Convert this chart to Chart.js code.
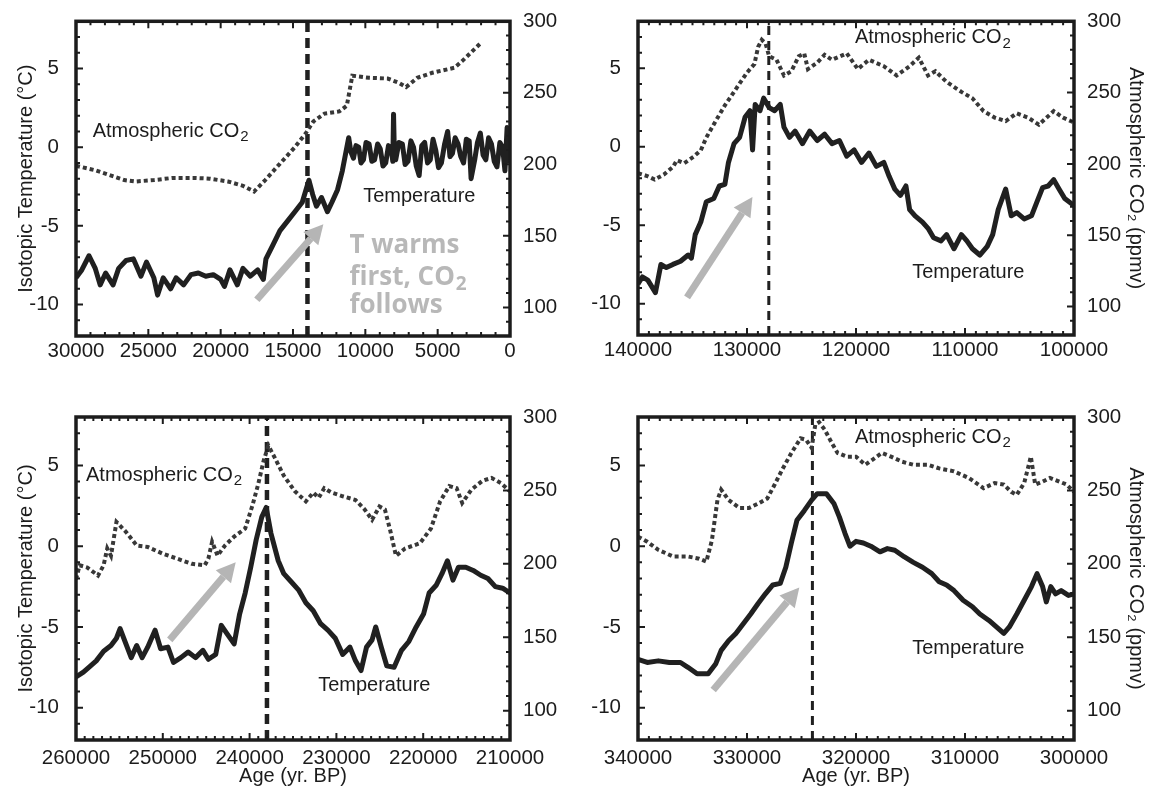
<!DOCTYPE html>
<html>
<head>
<meta charset="utf-8">
<script src="https://cdn.jsdelivr.net/npm/chart.js@4.4.1/dist/chart.umd.min.js"></script>
<style>
  html, body { margin: 0; padding: 0; background: #fff; }
  #wrap { position: relative; width: 1151px; height: 788px; }
  canvas { position: absolute; }
</style>
</head>
<body>
<div id="wrap">
  <canvas id="c1" width="575" height="394" style="left:0;top:0"></canvas>
  <canvas id="c2" width="576" height="394" style="left:575px;top:0"></canvas>
  <canvas id="c3" width="575" height="394" style="left:0;top:394px"></canvas>
  <canvas id="c4" width="576" height="394" style="left:575px;top:394px"></canvas>
</div>
<script>
// --- shared tick labels ---
const tempTicks = [-10, -5, 0, 5];
const co2Ticks = [100, 150, 200, 250, 300];
const ticks1 = [30000, 25000, 20000, 15000, 10000, 5000, 0];
const ticks2 = [140000, 130000, 120000, 110000, 100000];
const ticks3 = [260000, 250000, 240000, 230000, 220000, 210000];
const ticks4 = [340000, 330000, 320000, 310000, 300000];

// --- 30 kyr BP to present ---
const tempAge1 = [30000,29600,29100,28670,28330,27950,27440,27050,26540,26030,25510,25130,24620,24360,23970,23460,23080,22560,22050,21540,21030,20510,20000,19740,19360,18850,18460,17950,17440,17050,16870,16410,15900,15380,14870,14360,14100,13900,13640,13380,13030,12620,12310,11920,11590,11150,11000,10820,10650,10460,10300,10130,9950,9740,9550,9360,9150,8970,8780,8590,8400,8200,8100,8050,7990,7900,7680,7440,7250,7050,6850,6670,6480,6280,6100,5900,5700,5510,5320,5130,4940,4740,4520,4310,4150,3980,3790,3590,3400,3210,3020,2820,2690,2440,2250,2050,1860,1670,1480,1280,1090,900,700,510,350,200,100,0];
const temp1 = [-8.3,-7.8,-6.9,-7.7,-8.75,-8.0,-8.75,-7.7,-7.2,-7.1,-8.2,-7.3,-8.3,-9.4,-8.3,-9.0,-8.3,-8.75,-8.1,-8.0,-8.2,-8.1,-8.4,-8.85,-7.8,-8.75,-7.7,-8.2,-7.8,-8.4,-7.1,-6.25,-5.3,-4.7,-4.1,-3.5,-2.7,-2.1,-3.0,-3.75,-3.2,-4.1,-3.5,-2.7,-1.5,0.6,-0.3,-0.7,0.1,0,-1.0,-0.8,0.3,0.2,-0.9,-0.8,0.2,-0.1,-1.2,-1.0,0.1,-0.2,-0.9,2.1,-0.5,-0.8,0.3,0.2,-1.1,-0.9,0.4,0,-1.2,-1.8,0.1,0.3,-1.0,-0.8,0.5,-0.2,-1.3,-1.0,0.2,1.0,-0.6,-0.4,0.6,0.2,-0.6,-1.0,0.5,0.4,-2.0,-0.8,0.3,0.9,-0.5,-0.8,0.6,0.2,-0.9,-1.25,0.3,0,-1.5,1.25,-0.5,-1.0];
const co2Age1 = [30000,28720,27690,26670,25900,24600,23330,21800,20770,19490,18460,17690,16920,15900,14870,14100,13590,12820,11800,11280,10900,9750,8460,7690,7180,6410,5380,3850,3330,2050];
const co2_1 = [199,196,192.5,189,188,189,190.5,190.5,190,188,185,181,189,200.5,212,222,230,235.5,237,241,262,260.5,260,257,254,260.5,264,267.5,272,284.5];

// --- 140 to 100 kyr BP ---
const tempAge2 = [140000,139600,139100,138400,137900,137400,136800,136100,135400,135100,134750,134240,133730,133050,132540,132030,131700,131190,130680,130170,129730,129490,129250,128810,128470,127970,127460,126950,126610,126100,125590,124910,124240,123560,122880,122200,121520,120850,120170,119490,118810,118130,117450,116950,116440,115930,115420,115080,114580,113900,113390,112880,112200,111690,111010,110330,109830,109320,108640,107960,107460,106950,106270,105760,105250,104570,103900,103390,102880,102370,101860,101360,100850,100000];
const temp2 = [-8.75,-8.3,-8.5,-9.3,-7.5,-7.7,-7.5,-7.3,-6.9,-7.1,-5.6,-4.8,-3.5,-3.3,-2.5,-2.4,-1.0,0.2,0.6,1.9,2.3,-0.2,2.7,2.3,3.1,2.5,2.3,2.7,1.25,0.6,1.0,0.2,1.0,0.4,0.8,0.2,0.4,-0.6,-0.2,-1.0,-0.4,-1.25,-1.0,-1.9,-2.7,-3.1,-2.5,-4.0,-4.4,-4.8,-5.2,-5.8,-6.0,-5.6,-6.5,-5.6,-6.0,-6.5,-6.9,-6.35,-5.6,-4.0,-2.7,-4.4,-4.2,-4.6,-4.4,-3.5,-2.6,-2.5,-2.1,-2.7,-3.3,-3.75];
const co2Age2 = [140000,139150,138470,137630,136780,136440,135760,134910,134240,133730,132880,132030,131020,130000,129320,128980,128640,128300,127970,127290,126610,125930,125250,124750,124410,123560,122880,122200,120850,119830,118810,117450,116270,115080,114240,113390,112710,111690,110330,109320,108300,107280,106260,105250,104230,103220,101860,101020,100000];
const co2_2 = [193.5,191.5,189,192.5,198,202.5,200.5,205,209.5,218.5,230,241,252.5,264,270,282,287,284.5,275.5,273,262,265,275.5,277.5,266.5,271,276.5,273,277.5,266.5,273,268.5,262,268.5,274.5,262,265,257.5,250.5,246,237,232.5,230,235.5,232.5,227.5,237,232.5,229];

// --- 260 to 210 kyr BP ---
const tempAge3 = [260000,259150,258520,257670,256820,255970,255340,254920,254360,253640,253010,252380,251740,250890,250250,249410,248770,247920,247080,246230,245380,244750,243900,243260,242630,241780,241150,240510,239870,239240,238600,238090,237540,236700,236060,235210,234370,233520,232670,231820,230980,230130,229280,228440,227800,227160,226530,225890,225470,224830,224200,223350,222500,221650,220810,219960,219320,218480,217840,217210,216570,215940,215090,214240,213370,212540,211690,210850,210000];
const temp3 = [-8.1,-7.8,-7.5,-7.1,-6.5,-6.15,-5.7,-5.1,-5.9,-6.9,-6.15,-6.9,-6.25,-5.2,-6.35,-6.25,-7.2,-6.9,-6.55,-6.9,-6.45,-7.0,-6.7,-4.9,-5.4,-6.05,-4.2,-2.9,-1.3,0.4,1.8,2.4,0.8,-0.9,-1.7,-2.2,-2.7,-3.5,-4.0,-4.8,-5.2,-5.7,-6.7,-6.25,-7.1,-7.7,-6.25,-5.8,-5.0,-6.25,-7.4,-7.5,-6.45,-5.9,-5.0,-4.2,-2.9,-2.4,-1.7,-0.9,-2.1,-1.3,-1.3,-1.5,-1.8,-2.0,-2.5,-2.6,-2.9];
const co2Age3 = [260000,259580,258700,257460,256820,256400,255970,255340,254280,253010,251740,250040,248350,246650,245170,244750,244320,243690,242840,241780,240510,239660,239020,238390,237840,237120,236060,234790,233520,232670,232040,231400,230550,229280,227800,226740,225890,225040,224410,223770,223140,222080,220380,219110,218050,216990,216150,215510,214450,213180,212120,211060,210000];
const co2_3 = [189.5,199,197.5,192,199,210.5,205.5,228.5,222,212.5,211.5,207,203.5,200,199,203.5,215,205.5,212.5,218.5,224,240,254,270,280.5,272.5,260,249.5,242.5,248.5,245,251.5,248.5,246,243.5,237,230,239,237,222,205.5,210.5,214,224,242.5,253,251.5,241.5,250.5,256.5,258.5,255,249.5];

// --- 340 to 300 kyr BP ---
const tempAge4 = [340000,339150,338140,337120,336100,335420,334580,333560,332880,332370,331690,331020,330340,329660,328980,328310,327630,326950,326440,325930,325420,324750,324070,323560,322710,322030,321520,321010,320560,320000,319320,318640,317800,317120,316440,315590,314740,313900,313050,312370,311690,311010,310170,309320,308640,307800,307120,306440,305930,305250,304570,303900,303390,302880,302540,302130,301690,301180,300510,300000];
const temp4 = [-7.0,-7.2,-7.1,-7.2,-7.2,-7.5,-7.9,-7.9,-7.3,-6.45,-5.85,-5.4,-4.8,-4.2,-3.55,-2.95,-2.4,-2.3,-1.3,0.2,1.6,2.2,2.85,3.25,3.25,2.65,1.8,0.8,0.0,0.3,0.2,0.0,-0.35,-0.15,-0.25,-0.65,-1.0,-1.3,-1.7,-2.2,-2.4,-2.75,-3.35,-3.75,-4.2,-4.6,-5.0,-5.4,-5.0,-4.2,-3.35,-2.5,-1.7,-2.5,-3.45,-2.5,-2.95,-2.75,-3.05,-2.95];
const co2Age4 = [340000,339150,338140,336780,335420,334410,333730,333220,332710,332370,331690,330680,329830,328980,328140,327460,326780,325930,325080,324580,324070,323730,323390,322880,322200,321690,320850,320000,319150,318470,317630,316780,315760,314740,313390,312370,311010,309660,308300,307280,306440,305760,305250,304570,303960,303560,302880,302200,301350,300680,300000];
const co2_4 = [218.5,215,209.5,205,205,203.5,201.5,216,243.5,250.5,243.5,238,238,241,244.5,254,264,275.5,285.5,284.5,279,295,296.5,291.5,282,275.5,273,273,267.5,271,275.5,273,269.5,267.5,267.5,265,263,258.5,251.5,255,254,249,247,255,273,254,256,258.5,256,254,249];

// age of the dashed marker in each panel
const lagAges = [14000, 128000, 238000, 324000];

const FONT = '"Liberation Sans", Arial, Helvetica, sans-serif';
const INK = '#1c1c1c';
Chart.defaults.font.family = FONT;
Chart.defaults.color = INK;

function pairs(xs, ys) {
  return xs.map((x, i) => ({ x: x, y: ys[i] }));
}

// frame, inward tick marks, arrow and in-plot labels
const panelDecor = {
  id: 'panelDecor',
  afterDatasetsDraw(chart, args, opts) {
    const ctx = chart.ctx;
    const a = chart.chartArea;
    const sx = chart.scales.x, sT = chart.scales.yT, sC = chart.scales.yC;
    ctx.save();

    // grey arrow
    if (opts.arrow) {
      const ar = opts.arrow;
      const x0 = sx.getPixelForValue(ar.from[0]), y0 = sT.getPixelForValue(ar.from[1]);
      const x1 = sx.getPixelForValue(ar.to[0]), y1 = sT.getPixelForValue(ar.to[1]);
      const ang = Math.atan2(y1 - y0, x1 - x0);
      const head = 19, half = 10;
      const bx = x1 - head * Math.cos(ang), by = y1 - head * Math.sin(ang);
      ctx.strokeStyle = '#b5b5b5';
      ctx.fillStyle = '#b5b5b5';
      ctx.lineWidth = 7;
      ctx.beginPath();
      ctx.moveTo(x0, y0);
      ctx.lineTo(bx, by);
      ctx.stroke();
      ctx.beginPath();
      ctx.moveTo(x1, y1);
      ctx.lineTo(bx + half * Math.sin(ang), by - half * Math.cos(ang));
      ctx.lineTo(bx - half * Math.sin(ang), by + half * Math.cos(ang));
      ctx.closePath();
      ctx.fill();
    }

    // text labels, parts flagged as subscript are drawn smaller and lower
    (opts.labels || []).forEach(lb => {
      let px = sx.getPixelForValue(lb.x);
      const py = sT.getPixelForValue(lb.y);
      const size = lb.size || 20;
      const weight = lb.bold ? 'bold ' : '';
      const fam = lb.family || FONT;
      ctx.fillStyle = lb.color || INK;
      ctx.textAlign = 'left';
      ctx.textBaseline = 'middle';
      lb.parts.forEach(p => {
        const sub = p[1];
        const fs = sub ? Math.round(size * 0.74) : size;
        ctx.font = weight + fs + 'px ' + fam;
        ctx.fillText(p[0], px, py + (sub ? size * 0.28 : 0));
        px += ctx.measureText(p[0]).width + (sub ? 0 : 1);
      });
    });

    // box
    ctx.strokeStyle = INK;
    ctx.lineWidth = 3.5;
    ctx.strokeRect(a.left, a.top, a.right - a.left, a.bottom - a.top);

    // inward ticks on all four sides
    ctx.lineWidth = 2;
    ctx.beginPath();
    const xm = opts.xMinor, xM = opts.xMajor;
    for (let v = Math.ceil(sx.min / xm) * xm; v <= sx.max; v += xm) {
      const p = sx.getPixelForValue(v);
      const len = v % xM === 0 ? 7 : 4;
      ctx.moveTo(p, a.bottom); ctx.lineTo(p, a.bottom - len);
      ctx.moveTo(p, a.top); ctx.lineTo(p, a.top + len);
    }
    for (let v = Math.ceil(sT.min); v <= sT.max; v += 1) {
      const p = sT.getPixelForValue(v);
      const len = v % 5 === 0 ? 7 : 4;
      ctx.moveTo(a.left, p); ctx.lineTo(a.left + len, p);
    }
    for (let v = Math.ceil(sC.min / 10) * 10; v <= sC.max; v += 10) {
      const p = sC.getPixelForValue(v);
      const len = v % 50 === 0 ? 7 : 4;
      ctx.moveTo(a.right, p); ctx.lineTo(a.right - len, p);
    }
    ctx.stroke();
    ctx.restore();
  }
};

function co2Label(x, y) {
  return { x: x, y: y, parts: [['Atmospheric CO'], ['2', true]] };
}
function tempLabel(x, y) {
  return { x: x, y: y, parts: [['Temperature']] };
}

function buildPanel(id, p) {
  const el = document.getElementById(id);
  const W = el.width, H = el.height;
  const box = p.box;
  const tickFont = { size: 20.5 };
  const titleFont = { size: 20 };
  return new Chart(el, {
    type: 'line',
    data: {
      datasets: [
        {
          label: 'Atmospheric CO2',
          data: pairs(p.co2Age, p.co2),
          yAxisID: 'yC',
          borderColor: '#383838',
          borderWidth: 4,
          borderDash: [4, 3],
          pointRadius: 0,
          tension: 0
        },
        {
          label: 'Temperature',
          data: pairs(p.tempAge, p.temp),
          yAxisID: 'yT',
          borderColor: '#202020',
          borderWidth: 5,
          borderJoinStyle: 'round',
          pointRadius: 0,
          tension: 0
        },
        {
          label: 'marker',
          data: [{ x: p.lag, y: -12 }, { x: p.lag, y: 8 }],
          yAxisID: 'yT',
          borderColor: '#202020',
          borderWidth: p.dashWidth,
          borderDash: p.dash,
          pointRadius: 0
        }
      ]
    },
    options: {
      responsive: false,
      animation: false,
      devicePixelRatio: 1,
      events: [],
      layout: { padding: { left: 0, right: 0, top: box.top, bottom: 0 } },
      plugins: {
        legend: { display: false },
        tooltip: { enabled: false },
        panelDecor: { arrow: p.arrow, labels: p.labels, xMinor: 1000, xMajor: p.xMajor }
      },
      scales: {
        x: {
          type: 'linear',
          position: 'bottom',
          reverse: true,
          min: p.xMin,
          max: p.xMax,
          afterFit: s => { s.height = H - box.bottom; },
          afterBuildTicks: s => { s.ticks = p.xTicks.map(v => ({ value: v })); },
          grid: { display: false },
          border: { display: false },
          ticks: { font: tickFont, color: INK, padding: p.xPad, maxRotation: 0, autoSkip: false, callback: v => String(v) },
          title: { display: p.xTitle, text: 'Age (yr. BP)', font: titleFont, color: INK, padding: { top: 0, bottom: 0 } }
        },
        yT: {
          type: 'linear',
          position: 'left',
          min: -12,
          max: 8,
          afterFit: s => { s.width = box.left; },
          afterBuildTicks: s => { s.ticks = tempTicks.map(v => ({ value: v })); },
          grid: { display: false },
          border: { display: false },
          ticks: { font: tickFont, color: INK, padding: 9, callback: v => String(v) },
          title: { display: p.leftTitle, text: 'Isotopic Temperature (°C)', font: titleFont, color: INK, padding: { top: 14, bottom: 0 } }
        },
        yC: {
          type: 'linear',
          position: 'right',
          min: 80,
          max: 300,
          afterFit: s => { s.width = W - box.right; },
          afterBuildTicks: s => { s.ticks = co2Ticks.map(v => ({ value: v })); },
          grid: { display: false },
          border: { display: false },
          ticks: { font: tickFont, color: INK, padding: 5, callback: v => String(v) },
          title: { display: p.rightTitle, text: 'Atmospheric CO₂ (ppmv)', font: titleFont, color: INK, padding: { top: 3, bottom: 0 } }
        }
      }
    },
    plugins: [panelDecor]
  });
}

const warmFont = '"Open Sans", sans-serif';

buildPanel('c1', {
  box: { left: 76, right: 510, top: 15, bottom: 336 },
  xMin: 0, xMax: 30000, xTicks: ticks1, xMajor: 5000, xPad: -5,
  tempAge: tempAge1, temp: temp1, co2Age: co2Age1, co2: co2_1,
  lag: lagAges[0], dash: [10, 6], dashWidth: 4.5,
  leftTitle: true, rightTitle: false, xTitle: false,
  arrow: { from: [17500, -9.7], to: [12900, -4.9] },
  labels: [
    co2Label(28850, 1.0),
    tempLabel(10150, -3.15),
    { x: 11100, y: -6.25, size: 26, bold: true, family: warmFont, color: '#b8b8b8', parts: [['T warms']] },
    { x: 11100, y: -8.3, size: 26, bold: true, family: warmFont, color: '#b8b8b8', parts: [['first, CO'], ['2', true]] },
    { x: 11100, y: -10.05, size: 26, bold: true, family: warmFont, color: '#b8b8b8', parts: [['follows']] }
  ]
});

buildPanel('c2', {
  box: { left: 63, right: 499, top: 14, bottom: 335 },
  xMin: 100000, xMax: 140000, xTicks: ticks2, xMajor: 10000, xPad: -5,
  tempAge: tempAge2, temp: temp2, co2Age: co2Age2, co2: co2_2,
  lag: lagAges[1], dash: [9, 6], dashWidth: 3,
  leftTitle: false, rightTitle: true, xTitle: false,
  arrow: { from: [135500, -9.6], to: [129500, -3.2] },
  labels: [co2Label(120100, 6.95), tempLabel(114850, -8.0)]
});

buildPanel('c3', {
  box: { left: 76, right: 510, top: 23, bottom: 346 },
  xMin: 210000, xMax: 260000, xTicks: ticks3, xMajor: 10000, xPad: -2,
  tempAge: tempAge3, temp: temp3, co2Age: co2Age3, co2: co2_3,
  lag: lagAges[2], dash: [10, 6], dashWidth: 4.5,
  leftTitle: true, rightTitle: false, xTitle: true,
  arrow: { from: [249200, -5.8], to: [241600, -1.0] },
  labels: [co2Label(258850, 4.4), tempLabel(232100, -8.65)]
});

buildPanel('c4', {
  box: { left: 63, right: 499, top: 23, bottom: 346 },
  xMin: 300000, xMax: 340000, xTicks: ticks4, xMajor: 10000, xPad: -2,
  tempAge: tempAge4, temp: temp4, co2Age: co2Age4, co2: co2_4,
  lag: lagAges[3], dash: [9, 6], dashWidth: 3,
  leftTitle: false, rightTitle: true, xTitle: true,
  arrow: { from: [333100, -8.9], to: [325200, -2.55] },
  labels: [co2Label(320100, 6.75), tempLabel(314850, -6.35)]
});
</script>
</body>
</html>
